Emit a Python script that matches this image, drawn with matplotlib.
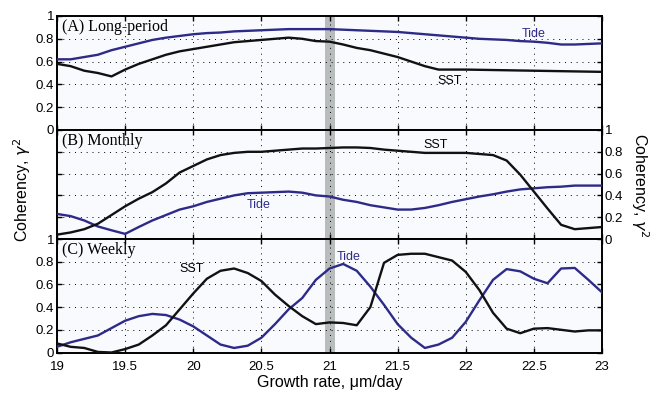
import numpy as np
import matplotlib.pyplot as plt

# growth rate grid, 0.1 step
x = np.round(np.arange(19.0, 23.01, 0.1), 1)

# (A) long-period
sst_a = [0.58, 0.56, 0.52, 0.50, 0.47, 0.53, 0.58, 0.62, 0.66, 0.69, 0.71,
         0.73, 0.75, 0.77, 0.78, 0.79, 0.80, 0.81, 0.80, 0.78, 0.775,
         0.75, 0.72, 0.70, 0.67, 0.64, 0.60, 0.56, 0.53, 0.53, 0.53,
         0.528, 0.526, 0.524, 0.522, 0.52, 0.518, 0.516, 0.514, 0.512, 0.51]
tide_a = [0.62, 0.62, 0.64, 0.66, 0.70, 0.73, 0.76, 0.79, 0.81, 0.825, 0.84,
          0.85, 0.855, 0.865, 0.87, 0.875, 0.88, 0.885, 0.885, 0.885, 0.885,
          0.88, 0.875, 0.87, 0.865, 0.86, 0.85, 0.84, 0.83, 0.82, 0.81,
          0.80, 0.795, 0.79, 0.78, 0.775, 0.765, 0.75, 0.75, 0.755, 0.76]

# (B) monthly
sst_b = [0.04, 0.06, 0.09, 0.14, 0.22, 0.30, 0.37, 0.43, 0.51, 0.61, 0.67,
         0.73, 0.77, 0.79, 0.80, 0.80, 0.81, 0.82, 0.83, 0.83, 0.835,
         0.84, 0.84, 0.835, 0.82, 0.81, 0.80, 0.79, 0.79, 0.79, 0.79,
         0.78, 0.77, 0.72, 0.59, 0.435, 0.28, 0.13, 0.09, 0.10, 0.11]
tide_b = [0.23, 0.21, 0.17, 0.115, 0.08, 0.047, 0.11, 0.17, 0.22, 0.27, 0.30,
          0.34, 0.37, 0.40, 0.42, 0.425, 0.43, 0.435, 0.425, 0.40, 0.39,
          0.36, 0.34, 0.31, 0.29, 0.27, 0.27, 0.285, 0.31, 0.34, 0.365,
          0.39, 0.41, 0.435, 0.455, 0.465, 0.475, 0.48, 0.49, 0.49, 0.49]

# (C) weekly
sst_c = [0.08, 0.05, 0.04, 0.005, 0.0, 0.03, 0.07, 0.15, 0.24, 0.38, 0.52,
         0.65, 0.72, 0.74, 0.70, 0.63, 0.51, 0.41, 0.32, 0.25, 0.265,
         0.26, 0.24, 0.40, 0.79, 0.86, 0.87, 0.87, 0.84, 0.81, 0.71,
         0.55, 0.35, 0.21, 0.17, 0.21, 0.215, 0.20, 0.185, 0.195, 0.195]
tide_c = [0.05, 0.09, 0.12, 0.15, 0.215, 0.28, 0.32, 0.34, 0.33, 0.29, 0.23,
          0.15, 0.07, 0.04, 0.06, 0.13, 0.25, 0.38, 0.48, 0.64, 0.74,
          0.78, 0.72, 0.58, 0.42, 0.25, 0.13, 0.04, 0.07, 0.13, 0.27,
          0.46, 0.64, 0.735, 0.715, 0.65, 0.61, 0.74, 0.745, 0.64, 0.53]

yticks = [0, 0.2, 0.4, 0.6, 0.8, 1]
yticklabels = ['0', '0.2', '0.4', '0.6', '0.8', '1']
xticks = [19, 19.5, 20, 20.5, 21, 21.5, 22, 22.5, 23]
xticklabels = ['19', '19.5', '20', '20.5', '21', '21.5', '22', '22.5', '23']

navy = '#2e2a88'
plt.rcParams['font.family'] = ['Liberation Sans', 'DejaVu Sans']

fig = plt.figure(figsize=(6.64, 3.97), dpi=100)
W, H = 664, 397
left, right = 57 / W, 602 / W

def make_ax(top_px, bot_px):
    return fig.add_axes([left, 1 - bot_px / H, right - left, (bot_px - top_px) / H])

axA = make_ax(16, 130)
axB = make_ax(130, 239)
axC = make_ax(239, 352.5)

panels = [(axA, sst_a, tide_a, '(A) Long-period'),
          (axB, sst_b, tide_b, '(B) Monthly'),
          (axC, sst_c, tide_c, '(C) Weekly')]

for ax, sst, tide, title in panels:
    ax.set_facecolor('#f8fafd')
    ax.axvspan(20.965, 21.04, color='#b9bcbc', lw=0, zorder=1)
    ax.plot(x, tide, color=navy, lw=1.7, zorder=3)
    ax.plot(x, sst, color='#111111', lw=1.7, zorder=3)
    ax.set_xlim(19, 23)
    ax.set_ylim(0, 1)
    ax.set_xticks(xticks)
    ax.set_yticks(yticks)
    ax.grid(True, color='black', linestyle=(0, (1, 5)), linewidth=0.7)
    ax.tick_params(direction='in', length=3.5, width=1, top=True, right=True,
                   labelsize=9.5, pad=2)
    ax.tick_params(axis='x', pad=6)
    for s in ax.spines.values():
        s.set_linewidth(1.4)
    ax.text(19.04, 0.97, title, family='Liberation Serif', fontsize=11.5,
            ha='left', va='top', zorder=4)

axA.set_yticklabels(yticklabels)
axA.set_xticklabels([])
axB.set_xticklabels([])
axB.set_yticklabels(yticklabels)
axB.tick_params(labelleft=False, labelright=True)
axC.set_yticklabels(yticklabels)
axC.set_xticklabels(xticklabels)

axA.text(22.5, 0.84, 'Tide', color=navy, fontsize=9, ha='center', va='center', zorder=4)
axA.text(21.88, 0.43, 'SST', color='black', fontsize=9, ha='center', va='center', zorder=4)
axB.text(21.78, 0.86, 'SST', color='black', fontsize=9, ha='center', va='center', zorder=4)
axB.text(20.48, 0.31, 'Tide', color=navy, fontsize=9, ha='center', va='center', zorder=4)
axC.text(19.99, 0.74, 'SST', color='black', fontsize=9, ha='center', va='center', zorder=4)
axC.text(21.14, 0.84, 'Tide', color=navy, fontsize=9, ha='center', va='center', zorder=4)

fig.text(22 / W, 1 - 190 / H, 'Coherency, $\\gamma^2$', rotation=90, fontsize=11.5,
         ha='center', va='center')
fig.text(640 / W, 1 - 185 / H, 'Coherency, $\\gamma^2$', rotation=270, fontsize=11.5,
         ha='center', va='center')
fig.text(330 / W, 1 - 382 / H, 'Growth rate, \u03bcm/day', fontsize=11.5,
         ha='center', va='center')

plt.savefig('out.png', dpi=100)
